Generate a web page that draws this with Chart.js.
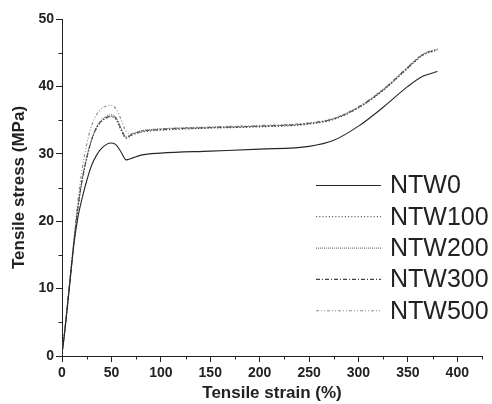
<!DOCTYPE html>
<html>
<head>
<meta charset="utf-8">
<title>Tensile stress-strain curves</title>
<script src="https://cdn.jsdelivr.net/npm/chart.js@4.4.0/dist/chart.umd.min.js"></script>
<style>
    html, body { margin: 0; padding: 0; background: #fff; }
    canvas { display: block; }
</style>
</head>
<body>
<canvas id="tensileChart" width="492" height="404"></canvas>
<script>
// strain (%) sample points shared by every curve
const strain = [0, 2, 4, 8, 12, 16, 20, 25, 30, 35, 40, 45, 50, 55, 60, 65, 70, 80, 100, 150, 200, 250, 275, 300, 325, 350, 365, 380];

// tensile stress (MPa) for each sample
const stressNTW0   = [0.3, 2.6, 5.2, 10.9, 16.5, 20.5, 23.2, 26.0, 28.3, 29.8, 30.8, 31.4, 31.6, 31.3, 30.2, 29.1, 29.3, 29.8, 30.1, 30.4, 30.7, 31.1, 32.0, 34.1, 36.9, 40.0, 41.5, 42.2];
const stressNTW100 = [0.3, 2.7, 5.4, 11.1, 16.9, 21.8, 25.7, 29.3, 32.0, 33.8, 34.8, 35.3, 35.5, 35.0, 33.4, 32.3, 32.7, 33.2, 33.5, 33.8, 34.0, 34.4, 35.1, 36.8, 39.4, 42.7, 44.6, 45.4];
const stressNTW200 = [0.3, 2.7, 5.5, 11.2, 17.0, 22.0, 25.9, 29.5, 32.2, 34.0, 35.0, 35.6, 35.8, 35.3, 33.7, 32.5, 32.9, 33.4, 33.7, 33.9, 34.1, 34.5, 35.2, 36.9, 39.5, 42.8, 44.7, 45.5];
const stressNTW300 = [0.3, 2.7, 5.4, 11.2, 16.9, 21.9, 25.8, 29.4, 32.1, 33.9, 34.9, 35.4, 35.6, 35.2, 33.6, 32.4, 32.8, 33.3, 33.6, 33.9, 34.1, 34.5, 35.2, 36.9, 39.5, 42.8, 44.7, 45.5];
const stressNTW500 = [0.3, 2.8, 5.6, 11.4, 17.2, 23.0, 27.3, 31.4, 34.2, 35.8, 36.7, 37.1, 37.2, 36.6, 35.0, 33.3, 33.0, 33.4, 33.7, 34.0, 34.2, 34.6, 35.3, 37.0, 39.6, 42.9, 44.8, 45.6];

const sampleNames = ["NTW0", "NTW100", "NTW200", "NTW300", "NTW500"];

// axis ticks
const strainTicks = [0, 50, 100, 150, 200, 250, 300, 350, 400];
const stressTicks = [0, 10, 20, 30, 40, 50];

const toPoints = ys => strain.map((x, i) => ({ x: x, y: ys[i] }));

const font = "'Liberation Sans', Arial, sans-serif";
const ink = "#222";

// short minor tick marks between the labelled ones
const minorTicks = {
    id: "minorTicks",
    afterDraw(chart) {
        const ctx = chart.ctx;
        const xs = chart.scales.x, ys = chart.scales.y;
        ctx.save();
        ctx.strokeStyle = ink;
        ctx.lineWidth = 1;
        ctx.beginPath();
        for (let v = 25; v <= 425; v += 50) {
            const px = Math.round(xs.getPixelForValue(v)) + 0.5;
            ctx.moveTo(px, ys.bottom);
            ctx.lineTo(px, ys.bottom + 3.5);
        }
        for (let v = 5; v <= 45; v += 10) {
            const py = Math.round(ys.getPixelForValue(v)) + 0.5;
            ctx.moveTo(xs.left, py);
            ctx.lineTo(xs.left - 3.5, py);
        }
        ctx.stroke();
        ctx.restore();
    }
};

// legend drawn inside the plot, lower right
const insideLegend = {
    id: "insideLegend",
    afterDraw(chart) {
        const ctx = chart.ctx;
        ctx.save();
        ctx.font = "25px " + font;
        ctx.textBaseline = "middle";
        chart.data.datasets.forEach((ds, i) => {
            const y = 185.5 + i * 31.3;
            ctx.strokeStyle = ds.borderColor;
            ctx.lineWidth = ds.borderWidth;
            ctx.setLineDash(ds.borderDash || []);
            ctx.beginPath();
            ctx.moveTo(316, y);
            ctx.lineTo(381, y);
            ctx.stroke();
            ctx.setLineDash([]);
            ctx.fillStyle = ink;
            ctx.fillText(ds.label, 390, y + 1);
        });
        ctx.restore();
    }
};

const styles = [
    { color: "#262626", dash: [] },
    { color: "#3a3a3a", dash: [1.2, 2] },
    { color: "#777", dash: [1, 1] },
    { color: "#444", dash: [4, 2, 1, 2] },
    { color: "#8a8a8a", dash: [3, 2, 1, 2, 1, 2] }
];

const series = [stressNTW0, stressNTW100, stressNTW200, stressNTW300, stressNTW500];

new Chart(document.getElementById("tensileChart"), {
    type: "line",
    data: {
        datasets: series.map((ys, i) => ({
            label: sampleNames[i],
            data: toPoints(ys),
            borderColor: styles[i].color,
            borderDash: styles[i].dash,
            borderWidth: 1.1,
            pointRadius: 0,
            fill: false,
            cubicInterpolationMode: "monotone"
        }))
    },
    options: {
        responsive: false,
        animation: false,
        devicePixelRatio: 1,
        layout: { padding: { top: 19, right: 10, left: 0, bottom: 0 } },
        plugins: {
            legend: { display: false },
            tooltip: { enabled: false }
        },
        scales: {
            x: {
                type: "linear",
                min: 0,
                max: 425,
                afterFit: scale => { scale.height = 48; },
                afterBuildTicks: scale => { scale.ticks = strainTicks.map(v => ({ value: v })); },
                grid: { drawOnChartArea: false, tickLength: 6, tickColor: ink },
                border: { color: ink, width: 1 },
                ticks: { color: ink, padding: 3, font: { family: font, size: 14, weight: "bold" } },
                title: {
                    display: true,
                    text: "Tensile strain (%)",
                    color: ink,
                    padding: { top: 0, bottom: 0 },
                    font: { family: font, size: 17, weight: "bold", lineHeight: 1.2 }
                }
            },
            y: {
                min: 0,
                max: 50,
                afterFit: scale => { scale.width = 62; },
                afterBuildTicks: scale => { scale.ticks = stressTicks.map(v => ({ value: v })); },
                grid: { drawOnChartArea: false, tickLength: 6, tickColor: ink },
                border: { color: ink, width: 1 },
                ticks: { color: ink, padding: 2, font: { family: font, size: 14, weight: "bold" } },
                title: {
                    display: true,
                    text: "Tensile stress (MPa)",
                    color: ink,
                    padding: { top: 9, bottom: 0 },
                    font: { family: font, size: 17, weight: "bold", lineHeight: 1.2 }
                }
            }
        }
    },
    plugins: [minorTicks, insideLegend]
});
</script>
</body>
</html>
